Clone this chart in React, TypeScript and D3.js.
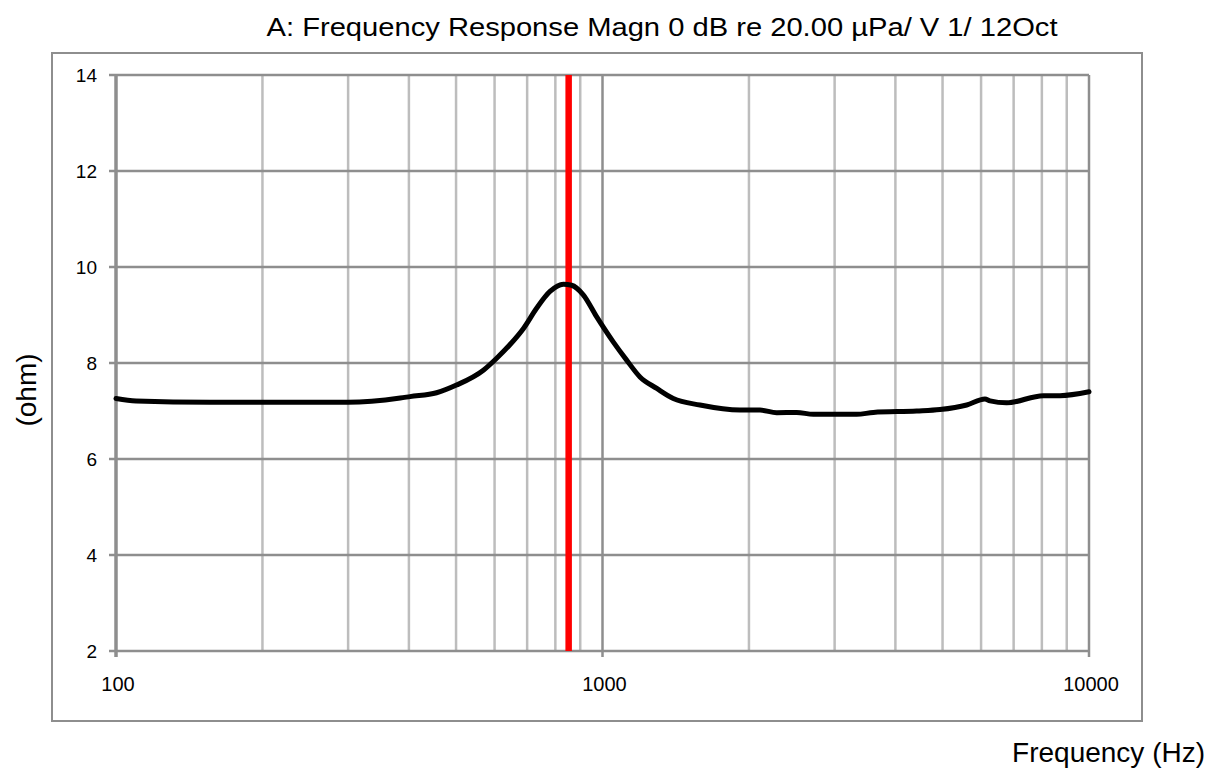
import React from "react";
import * as d3 from "d3";

const freqs = [100, 110, 156, 300, 384, 402, 456, 501, 569, 606, 645, 688, 732, 780, 831, 864, 913, 973, 1052, 1121, 1194, 1293, 1398, 1586, 1917, 2108, 2281, 2507, 2713, 3331, 3603, 4424, 4940, 5606, 6112, 6260, 6770, 8055, 8720, 10000];
const ohms = [7.26, 7.21, 7.18, 7.18, 7.27, 7.3, 7.38, 7.54, 7.85, 8.1, 8.38, 8.72, 9.14, 9.49, 9.64, 9.62, 9.42, 8.96, 8.44, 8.06, 7.71, 7.47, 7.26, 7.125, 7.02, 7.02, 6.965, 6.97, 6.93, 6.93, 6.97, 7.0, 7.03, 7.125, 7.25, 7.21, 7.17, 7.32, 7.32, 7.4];
const markerFreq = 852;
const yTicks = [2, 4, 6, 8, 10, 12, 14];
const xMajor = [100, 1000, 10000];
const xMinor = [200, 300, 400, 500, 600, 700, 800, 900, 2000, 3000, 4000, 5000, 6000, 7000, 8000, 9000];
const title = "A: Frequency Response Magn 0 dB re 20.00 µPa/ V 1/ 12Oct";
const yLabel = "(ohm)";
const xLabel = "Frequency (Hz)";

const FONT = "'Liberation Sans', Arial, sans-serif";

export default function App() {
  const L = 116, R = 1089, T = 75, B = 651;
  const x = d3.scaleLog().domain([100, 10000]).range([L, R]);
  const y = d3.scaleLinear().domain([2, 14]).range([B, T]);
  const pts = freqs.map((f, i) => [f, ohms[i]] as [number, number]);
  const line = d3.line<[number, number]>().x(d => x(d[0])).y(d => y(d[1])).curve(d3.curveMonotoneX);
  const minorC = "#bdbdbd";
  const majorC = "#8e8e8e";
  return (
    <svg width={1219} height={774} style={{ position: "absolute", left: 0, top: 0, background: "#fff" }} fontFamily={FONT}>
      <rect x={0} y={0} width={1219} height={774} fill="#fff" />
      <rect x={52} y={53} width={1090} height={668} fill="none" stroke="#8e8e8e" strokeWidth={2} />
      {xMinor.map(f => (
        <line key={"m" + f} x1={x(f)} x2={x(f)} y1={T} y2={B} stroke={minorC} strokeWidth={2.5} />
      ))}
      {yTicks.map(v => (
        <line key={"h" + v} x1={L - 7} x2={R} y1={y(v)} y2={y(v)} stroke={majorC} strokeWidth={2.5} />
      ))}
      {xMajor.map(f => (
        <line key={"M" + f} x1={x(f)} x2={x(f)} y1={T} y2={B + 6} stroke={majorC} strokeWidth={f === 100 ? 3.5 : 2.5} />
      ))}
      <line x1={x(markerFreq)} x2={x(markerFreq)} y1={T} y2={B} stroke="#ff0000" strokeWidth={6.5} />
      <path d={line(pts) || ""} fill="none" stroke="#000" strokeWidth={5} strokeLinejoin="round" strokeLinecap="round" />
      {yTicks.map(v => (
        <text key={"yl" + v} x={97} y={y(v)} dy="0.35em" textAnchor="end" fontSize={19} fill="#000">{v}</text>
      ))}
      {xMajor.map(f => (
        <text key={"xl" + f} x={x(f) + 2} y={691} textAnchor="middle" fontSize={20} fill="#000">{f}</text>
      ))}
      <text x={662} y={36} textAnchor="middle" fontSize={26} fill="#000" textLength={791} lengthAdjust="spacingAndGlyphs">{title}</text>
      <text x={1205} y={762} textAnchor="end" fontSize={28} fill="#000">{xLabel}</text>
      <text transform="translate(36,390) rotate(-90)" textAnchor="middle" fontSize={28} fill="#000">{yLabel}</text>
    </svg>
  );
}
